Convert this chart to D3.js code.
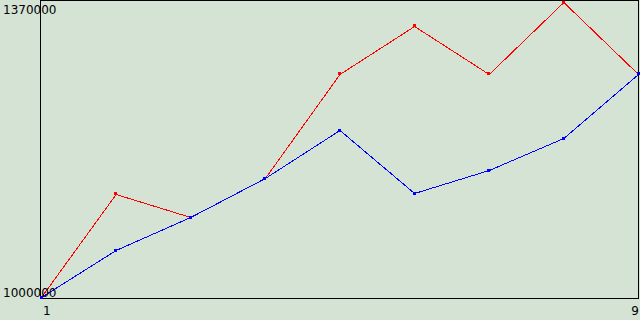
<!DOCTYPE html>
<html>
<head>
<meta charset="utf-8">
<script src="https://cdn.jsdelivr.net/npm/d3@7"></script>
<style>
  body { margin: 0; background: #d5e3d5; }
  svg { display: block; }
  text { font-family: "DejaVu Sans", sans-serif; font-size: 12px; fill: #000; }
</style>
</head>
<body>
<div id="chart-area"></div>
<script>
// data
const xValues = [1, 2, 3, 4, 5, 6, 7, 8, 9];
const redValues = [1000000, 1128750, 1100000, 1148750, 1278750, 1338750, 1278750, 1368750, 1278750];
const blueValues = [1000000, 1058750, 1100000, 1148750, 1208750, 1130000, 1158750, 1198750, 1278750];
const yTickLabels = [1000000, 1370000];
const xTickLabels = [1, 9];

const width = 640, height = 320;

const svg = d3.select("#chart-area").append("svg")
    .attr("width", width)
    .attr("height", height)

// background
svg.append("rect")
    .attr("width", width)
    .attr("height", height)
    .attr("fill", "#d5e3d5")

const x = d3.scaleLinear().domain([1, 9]).range([41.5, 638.5])
const y = d3.scaleLinear().domain([1000000, 1370000]).range([297.5, 1.5])

// frame
svg.append("rect")
    .attr("x", 40.5).attr("y", 0.5)
    .attr("width", 598).attr("height", 298)
    .attr("fill", "none")
    .attr("stroke", "#000")
    .attr("shape-rendering", "crispEdges")

const series = [
    { values: redValues, color: "#ff0000" },
    { values: blueValues, color: "#0000ff" }
]

const line = d3.line()
    .x((d, i) => x(xValues[i]))
    .y(d => y(d))

series.forEach(s => {
    svg.append("path")
        .datum(s.values)
        .attr("d", line)
        .attr("fill", "none")
        .attr("stroke", s.color)
        .attr("stroke-width", 1)
        .attr("shape-rendering", "crispEdges")

    svg.selectAll(null)
        .data(s.values)
        .enter().append("rect")
        .attr("x", (d, i) => Math.round(x(xValues[i])) - 2)
        .attr("y", d => Math.round(y(d)) - 2)
        .attr("width", 3)
        .attr("height", 3)
        .attr("fill", s.color)
        .attr("shape-rendering", "crispEdges")
})

// y labels (left aligned, overlapping the axis)
svg.selectAll(".ylabel")
    .data(yTickLabels)
    .enter().append("text")
    .attr("class", "ylabel")
    .attr("x", 3)
    .attr("y", d => d === 1370000 ? 14 : 297)
    .text(d => d)

// x labels
svg.selectAll(".xlabel")
    .data(xTickLabels)
    .enter().append("text")
    .attr("class", "xlabel")
    .attr("x", (d, i) => i === 0 ? 43 : 639)
    .attr("y", 315)
    .attr("text-anchor", (d, i) => i === 0 ? "start" : "end")
    .text(d => d)
</script>
</body>
</html>
